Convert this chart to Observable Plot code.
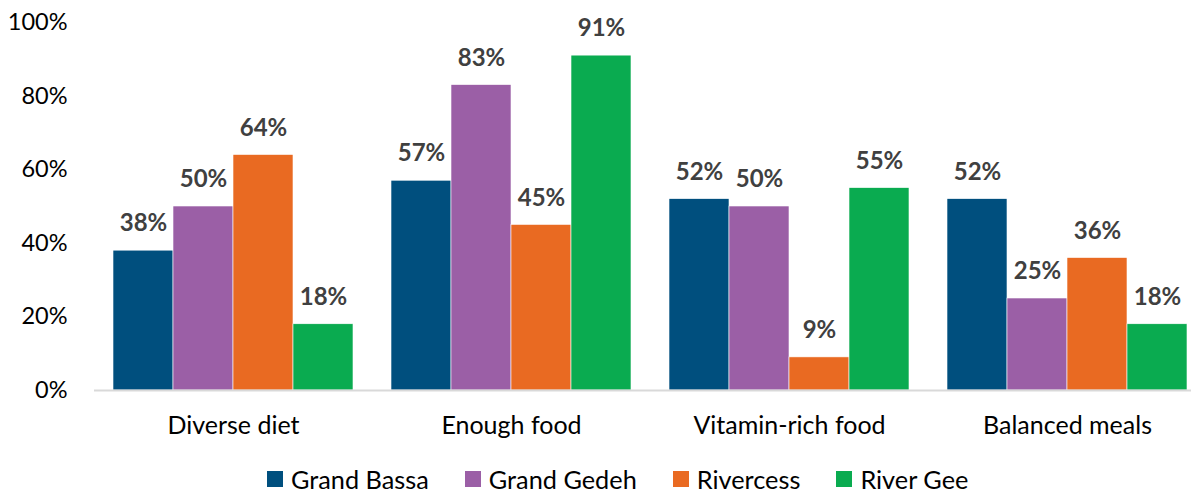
<!DOCTYPE html>
<html>
<head>
<meta charset="utf-8">
<script src="https://cdn.jsdelivr.net/npm/d3@7"></script>
<script src="https://cdn.jsdelivr.net/npm/@observablehq/plot@0.6"></script>
<style>
  html, body { margin: 0; padding: 0; background: #fff; overflow: hidden; }
  #chart { width: 1191px; height: 495px; position: relative; font-family: Lato, "Open Sans", sans-serif; }
  .legend { position: absolute; top: 464px; left: 267px; display: flex; justify-content: flex-start; gap: 36px; font-size: 25.3px; color: #000; white-space: nowrap; }
  .legend .item { display: flex; align-items: center; gap: 8px; line-height: 30px; height: 30px; }
  .legend .sw { width: 16px; height: 16px; display: inline-block; }
</style>
</head>
<body>
<div id="chart"></div>
<script>
const categories = ["Diverse diet", "Enough food", "Vitamin-rich food", "Balanced meals"];
const regions = ["Grand Bassa", "Grand Gedeh", "Rivercess", "River Gee"];
const colors = ["#004f7e", "#9b5fa6", "#e96a22", "#0aab50"];
const grandBassa = [38, 57, 52, 52];
const grandGedeh = [50, 83, 50, 25];
const rivercess = [64, 45, 9, 36];
const riverGee = [18, 91, 55, 18];
const yTicks = [0, 20, 40, 60, 80, 100];

const seriesValues = [grandBassa, grandGedeh, rivercess, riverGee];
const data = [];
categories.forEach((c, i) => {
  regions.forEach((r, j) => data.push({category: c, region: r, value: seriesValues[j][i]}));
});

const plot = Plot.plot({
  width: 1191,
  height: 455,
  marginLeft: 94,
  marginRight: -15,
  marginTop: 22,
  marginBottom: 65,
  style: {fontFamily: "Lato, 'Open Sans', sans-serif", fontSize: "22px", color: "#000", background: "transparent", overflow: "visible"},
  fx: {domain: categories, paddingInner: 36 / 278, paddingOuter: 18 / 278, label: null, axis: null},
  x: {domain: regions, padding: 0, axis: null},
  y: {domain: [0, 100], label: null, axis: null},
  color: {domain: regions, range: colors},
  marks: [
    Plot.axisY({ticks: yTicks, tickFormat: d => d + "%", tickSize: 0, tickPadding: 45, label: null, fontSize: 23.5, fill: "#000"}),
    Plot.axisFx({anchor: "bottom", tickSize: 0, tickPadding: 26, label: null, fontSize: 25, fill: "#000"}),
    Plot.barY(data, {fx: "category", x: "region", y: "value", fill: "region", stroke: "white", strokeWidth: 0.6}),
    Plot.ruleY([0], {stroke: "#d9d9d9", strokeWidth: 2, insetLeft: -18, insetRight: -18}),
    Plot.text(data, {fx: "category", x: "region", y: "value", text: d => d.value + "%", dy: -27, fontWeight: "bold", fontSize: 24, fill: "#404040"})
  ]
});
document.getElementById("chart").appendChild(plot);

const legend = document.createElement("div");
legend.className = "legend";
regions.forEach((r, i) => {
  const item = document.createElement("div");
  item.className = "item";
  const sw = document.createElement("span");
  sw.className = "sw";
  sw.style.background = colors[i];
  const t = document.createElement("span");
  t.textContent = r;
  item.appendChild(sw);
  item.appendChild(t);
  legend.appendChild(item);
});
document.getElementById("chart").appendChild(legend);
</script>
</body>
</html>
